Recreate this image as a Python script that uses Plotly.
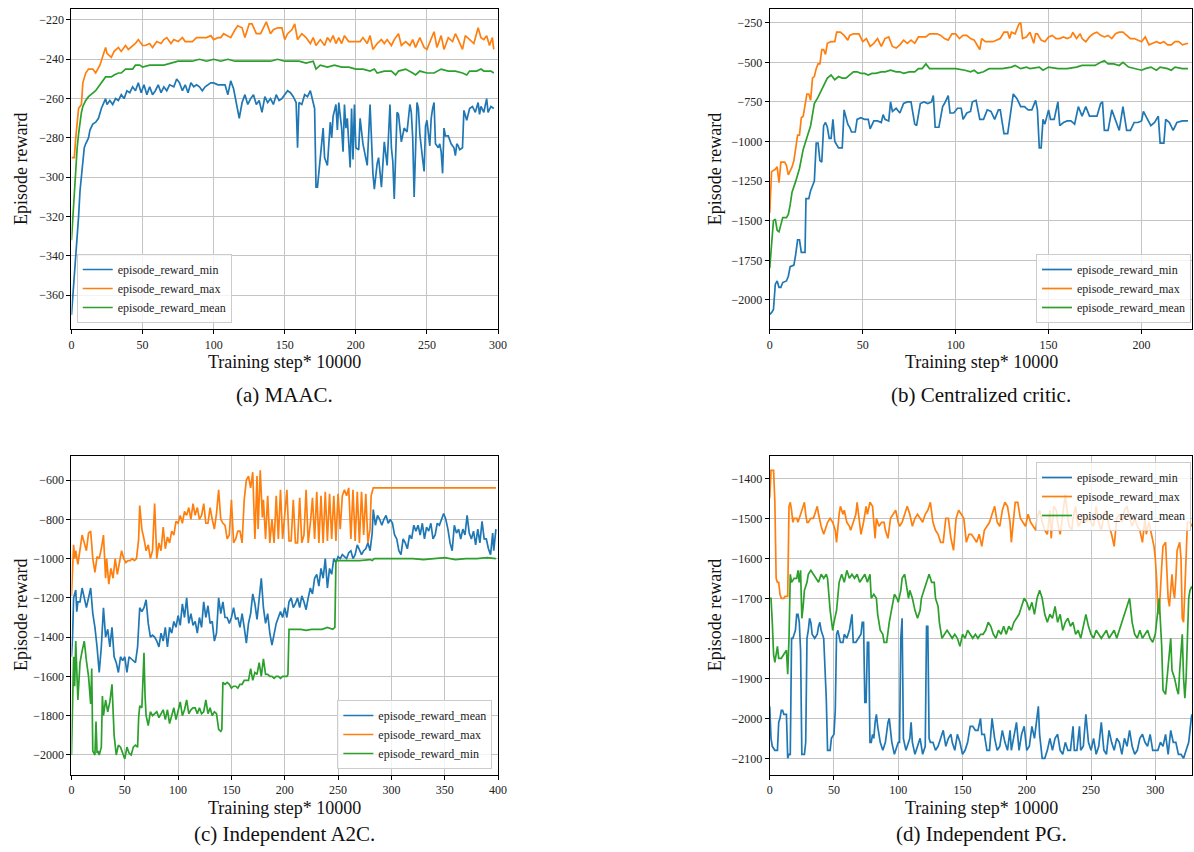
import plotly.graph_objects as go

# ---------------- data ----------------
# (a) MAAC
a_min = [(0,-370),(1,-360),(2,-350),(3,-345),(4,-330),(5,-320),(6,-307),(7,-300),(8,-290),(9,-285),(10,-283),(12,-280),(13,-276),(15,-273),(17,-272),(19,-270),(21,-265),(23,-262),(24,-260),(25,-263),(27,-261),(29,-263),(31,-260),(33,-261),(35,-258),(37,-260),(39,-256),(41,-257),(43,-254),(45,-256),(47,-252),(49,-257),(51,-253),(53,-258),(55,-254),(57,-258),(59,-256),(61,-253),(63,-257),(65,-254),(67,-256),(69,-253),(72,-254),(74,-250),(76,-252),(78,-256),(80,-253),(82,-257),(84,-252),(86,-254),(88,-253),(90,-254),(92,-256),(94,-254),(96,-253),(98,-252),(100,-252),(103,-253),(105,-253),(108,-253),(110,-258),(112,-251),(114,-255),(116,-262),(117,-265),(118,-270),(120,-262),(122,-258),(124,-263),(126,-260),(128,-258),(130,-263),(132,-261),(134,-267),(136,-259),(138,-262),(140,-260),(142,-263),(144,-258),(146,-261),(148,-260),(150,-258),(152,-256),(154,-257),(156,-259),(158,-262),(159,-285),(160,-262),(162,-263),(164,-258),(166,-259),(168,-256),(170,-262),(171,-265),(172,-305),(173,-305),(175,-290),(177,-275),(178,-290),(180,-294),(182,-272),(183,-280),(184,-269),(186,-263),(187,-276),(188,-262),(190,-275),(191,-287),(192,-263),(193,-275),(194,-270),(195,-283),(196,-295),(197,-265),(198,-291),(199,-263),(200,-285),(202,-286),(203,-270),(205,-283),(207,-290),(208,-294),(210,-263),(211,-280),(212,-298),(213,-306),(215,-293),(216,-290),(218,-305),(220,-282),(222,-294),(224,-263),(225,-285),(226,-292),(227,-311),(229,-267),(230,-268),(232,-282),(234,-275),(236,-277),(238,-263),(239,-267),(240,-280),(241,-310),(243,-262),(244,-265),(245,-278),(247,-291),(248,-297),(249,-274),(250,-271),(252,-284),(253,-270),(254,-265),(255,-262),(256,-283),(257,-284),(258,-285),(259,-283),(260,-287),(261,-298),(262,-275),(263,-279),(265,-279),(267,-283),(269,-285),(270,-289),(271,-283),(272,-284),(273,-286),(275,-285),(276,-266),(278,-271),(280,-265),(282,-264),(284,-267),(286,-262),(287,-268),(288,-264),(290,-267),(292,-260),(293,-267),(295,-264),(297,-265)]
a_max = [(0,-290),(2,-290),(3,-280),(5,-265),(7,-263),(8,-252),(10,-247),(12,-245),(15,-245),(17,-247),(20,-243),(22,-238),(24,-234),(25,-237),(28,-239),(30,-236),(33,-234),(35,-236),(38,-233),(40,-235),(43,-233),(45,-232),(47,-230),(50,-233),(52,-233),(55,-232),(57,-234),(60,-231),(63,-232),(65,-230),(67,-229),(70,-232),(72,-230),(75,-231),(78,-229),(80,-231),(83,-231),(85,-231),(88,-229),(90,-229),(93,-229),(95,-229),(98,-228),(100,-230),(103,-229),(105,-229),(107,-227),(110,-228),(112,-229),(115,-225),(117,-223),(120,-224),(122,-229),(125,-222),(127,-222),(130,-227),(133,-227),(135,-224),(137,-221),(140,-227),(142,-225),(145,-224),(148,-224),(150,-230),(152,-227),(155,-225),(157,-222),(159,-230),(162,-227),(165,-229),(168,-232),(170,-229),(172,-233),(175,-230),(178,-233),(180,-229),(182,-231),(184,-228),(186,-232),(188,-229),(190,-232),(192,-228),(195,-231),(198,-231),(200,-231),(203,-231),(205,-229),(208,-232),(210,-228),(212,-235),(215,-232),(218,-230),(220,-232),(222,-230),(225,-233),(227,-230),(230,-227),(232,-233),(235,-231),(238,-233),(240,-230),(242,-234),(245,-229),(248,-234),(250,-235),(252,-231),(255,-226),(257,-234),(260,-228),(262,-235),(265,-229),(268,-231),(270,-227),(272,-230),(275,-235),(277,-228),(280,-230),(283,-232),(286,-224),(288,-229),(290,-230),(292,-228),(294,-233),(296,-229),(297,-235)]
a_mean = [(0,-332),(1,-320),(2,-305),(3,-295),(4,-285),(5,-278),(6,-272),(7,-267),(8,-264),(10,-261),(12,-259),(15,-257),(17,-256),(20,-253),(22,-251),(24,-249),(26,-249),(28,-249),(30,-248),(33,-247),(35,-247),(38,-245),(40,-245),(43,-245),(45,-243),(48,-243),(50,-244),(55,-243),(60,-243),(65,-243),(70,-242),(75,-241),(80,-241),(85,-241),(90,-240),(95,-241),(100,-240),(105,-241),(110,-240),(115,-241),(120,-241),(125,-241),(130,-241),(135,-241),(140,-241),(145,-240),(150,-241),(155,-241),(160,-241),(165,-242),(170,-241),(172,-245),(175,-243),(180,-244),(185,-243),(190,-244),(195,-244),(200,-245),(205,-245),(210,-246),(213,-245),(215,-247),(220,-246),(225,-246),(228,-248),(230,-246),(235,-245),(240,-247),(242,-248),(245,-246),(250,-247),(255,-247),(260,-245),(265,-246),(270,-246),(275,-247),(278,-248),(280,-246),(285,-246),(288,-245),(290,-246),(295,-246),(297,-247)]

# (b) Centralized critic
b_min = [(0,-2090),(1,-2080),(2,-2060),(3,-1900),(4,-1880),(5,-1920),(6,-1920),(7,-1890),(9,-1880),(10,-1850),(11,-1790),(13,-1780),(14,-1710),(15,-1620),(16,-1620),(17,-1700),(19,-1700),(19.5,-1360),(21,-1360),(22,-1310),(24,-1250),(25,-1010),(26,-1010),(27,-1120),(28,-1130),(29,-900),(30,-880),(31,-910),(32,-980),(33,-980),(34,-860),(35,-1000),(37,-1040),(39,-1040),(40,-800),(42,-890),(43,-910),(44,-940),(46,-940),(47,-860),(49,-850),(51,-860),(53,-860),(54,-920),(56,-870),(58,-870),(60,-880),(61,-830),(62,-860),(64,-870),(65,-750),(66,-810),(68,-790),(70,-820),(72,-760),(74,-750),(76,-750),(78,-890),(79,-900),(81,-760),(83,-750),(85,-760),(87,-750),(88,-710),(89,-910),(91,-910),(93,-780),(94,-760),(96,-710),(97,-820),(99,-820),(101,-790),(103,-790),(104,-860),(106,-820),(108,-810),(109,-750),(111,-740),(113,-860),(115,-860),(117,-800),(119,-810),(121,-860),(123,-800),(124,-800),(126,-950),(128,-950),(130,-760),(131,-700),(133,-730),(135,-780),(137,-780),(139,-800),(141,-800),(143,-740),(144,-800),(145,-1040),(146,-1040),(147,-860),(148,-890),(150,-800),(151,-860),(153,-860),(155,-750),(156,-900),(158,-880),(160,-870),(162,-870),(164,-890),(166,-780),(168,-840),(170,-780),(172,-840),(174,-840),(176,-840),(178,-760),(179,-750),(180,-930),(182,-930),(184,-800),(186,-870),(188,-930),(190,-780),(192,-930),(194,-930),(196,-880),(198,-880),(200,-870),(201,-810),(203,-860),(205,-900),(207,-880),(209,-840),(210,-1010),(212,-1010),(213,-860),(215,-880),(217,-930),(219,-880),(222,-870),(225,-870)]
b_max = [(0,-1450),(1,-1190),(3,-1175),(4,-1160),(5,-1260),(6,-1130),(8,-1130),(9,-1150),(10,-1210),(12,-1160),(13,-1120),(15,-960),(16,-960),(17,-850),(18,-840),(19,-760),(20,-700),(21,-700),(22,-740),(23,-600),(24,-590),(25,-540),(26,-510),(27,-510),(28,-420),(29,-420),(30,-450),(31,-380),(33,-370),(35,-370),(36,-310),(38,-310),(40,-330),(42,-360),(43,-330),(45,-320),(48,-320),(50,-370),(52,-350),(54,-400),(56,-380),(58,-350),(60,-400),(62,-350),(64,-340),(66,-400),(68,-410),(70,-390),(72,-360),(74,-380),(76,-360),(78,-380),(80,-340),(82,-340),(84,-340),(86,-320),(90,-320),(92,-330),(94,-350),(96,-360),(98,-320),(100,-320),(102,-350),(104,-330),(106,-330),(108,-350),(110,-360),(112,-400),(113,-420),(114,-350),(116,-370),(120,-370),(124,-350),(126,-310),(128,-310),(129,-350),(130,-310),(132,-320),(134,-260),(135,-250),(136,-350),(138,-340),(140,-310),(142,-380),(143,-320),(144,-320),(146,-360),(148,-370),(150,-340),(152,-330),(154,-350),(156,-350),(158,-340),(160,-350),(162,-340),(163,-310),(165,-350),(167,-320),(168,-350),(170,-370),(172,-340),(174,-320),(176,-310),(178,-330),(180,-340),(182,-330),(184,-350),(186,-320),(188,-310),(190,-310),(192,-330),(194,-350),(196,-350),(198,-360),(200,-370),(202,-340),(204,-390),(206,-380),(208,-370),(210,-380),(212,-370),(214,-390),(216,-390),(218,-370),(220,-370),(222,-390),(224,-380),(225,-380)]
b_mean = [(0,-1800),(1,-1650),(2,-1500),(3,-1490),(4,-1560),(5,-1570),(6,-1530),(7,-1480),(9,-1480),(10,-1460),(11,-1400),(12,-1320),(14,-1250),(16,-1170),(18,-1050),(20,-980),(22,-900),(23,-830),(24,-760),(26,-720),(28,-670),(29,-640),(31,-600),(33,-580),(35,-610),(37,-590),(39,-600),(41,-600),(43,-580),(45,-560),(47,-560),(49,-570),(51,-570),(53,-580),(55,-570),(57,-570),(60,-560),(62,-560),(65,-550),(68,-560),(70,-560),(72,-570),(75,-560),(78,-560),(80,-540),(82,-540),(84,-510),(86,-540),(90,-540),(95,-540),(100,-540),(105,-550),(108,-560),(110,-550),(112,-570),(115,-560),(118,-540),(120,-540),(125,-540),(130,-530),(132,-520),(135,-540),(138,-530),(140,-540),(145,-530),(147,-550),(150,-530),(155,-540),(160,-540),(165,-530),(168,-520),(170,-520),(175,-520),(178,-500),(180,-490),(182,-510),(185,-510),(188,-520),(190,-500),(193,-530),(196,-540),(200,-550),(202,-540),(205,-530),(208,-550),(210,-530),(214,-540),(216,-550),(218,-530),(222,-540),(225,-540)]

# (c) Independent A2C
c_mean = [(0,-1500),(1,-1400),(2,-1200),(3,-1170),(4,-1160),(5,-1270),(6,-1220),(8,-1220),(10,-1150),(12,-1200),(14,-1250),(16,-1200),(18,-1150),(20,-1280),(22,-1350),(24,-1450),(26,-1580),(28,-1450),(30,-1250),(32,-1400),(34,-1360),(36,-1450),(38,-1350),(40,-1500),(42,-1530),(44,-1580),(46,-1500),(48,-1520),(50,-1500),(52,-1580),(54,-1500),(56,-1510),(58,-1520),(60,-1530),(62,-1450),(64,-1250),(66,-1270),(68,-1250),(70,-1210),(72,-1330),(74,-1400),(76,-1390),(78,-1400),(80,-1420),(82,-1450),(84,-1380),(86,-1420),(88,-1350),(90,-1450),(92,-1350),(94,-1380),(96,-1320),(98,-1350),(100,-1290),(102,-1340),(104,-1230),(106,-1300),(108,-1200),(110,-1330),(112,-1280),(114,-1340),(116,-1320),(118,-1380),(120,-1300),(122,-1350),(124,-1220),(126,-1300),(128,-1240),(130,-1330),(132,-1320),(134,-1420),(136,-1380),(138,-1200),(140,-1280),(142,-1220),(144,-1300),(146,-1300),(148,-1330),(150,-1300),(152,-1250),(154,-1310),(156,-1300),(158,-1350),(160,-1280),(162,-1350),(164,-1430),(166,-1330),(168,-1280),(170,-1180),(172,-1230),(174,-1310),(176,-1200),(178,-1100),(180,-1250),(182,-1330),(184,-1280),(186,-1380),(188,-1440),(190,-1380),(192,-1330),(194,-1300),(196,-1270),(198,-1300),(200,-1250),(202,-1300),(204,-1220),(206,-1200),(208,-1250),(210,-1230),(212,-1200),(214,-1250),(216,-1190),(218,-1220),(220,-1260),(222,-1200),(224,-1150),(226,-1180),(228,-1100),(230,-1080),(232,-1140),(234,-1050),(236,-1100),(238,-1000),(240,-1150),(242,-1050),(244,-1080),(246,-1000),(248,-1020),(250,-990),(252,-1000),(254,-980),(256,-990),(258,-1000),(260,-970),(262,-960),(264,-1000),(266,-980),(268,-930),(270,-960),(272,-980),(274,-960),(276,-950),(278,-920),(280,-960),(282,-870),(283,-750),(285,-830),(287,-780),(289,-800),(291,-830),(293,-800),(295,-780),(297,-820),(299,-800),(301,-820),(303,-880),(305,-900),(307,-960),(309,-980),(311,-900),(313,-920),(315,-950),(317,-880),(319,-900),(321,-830),(323,-860),(325,-830),(327,-880),(329,-820),(331,-900),(333,-840),(335,-860),(337,-820),(339,-900),(341,-880),(343,-820),(345,-830),(347,-800),(349,-770),(351,-800),(353,-850),(355,-920),(357,-960),(359,-830),(361,-870),(363,-850),(365,-900),(367,-850),(369,-880),(371,-780),(373,-870),(375,-900),(377,-860),(379,-930),(381,-850),(383,-920),(385,-810),(387,-900),(389,-900),(391,-950),(393,-980),(395,-870),(396,-960),(398,-850)]
c_max = [(0,-1190),(1,-1050),(2,-930),(3,-1000),(4,-960),(6,-1030),(8,-960),(10,-880),(12,-920),(14,-960),(16,-870),(18,-860),(20,-1000),(22,-1070),(24,-990),(26,-1000),(28,-950),(30,-880),(32,-1100),(33,-1000),(35,-1130),(37,-1050),(39,-1100),(41,-1000),(43,-1080),(45,-1010),(47,-960),(49,-1000),(51,-1020),(53,-1010),(55,-1010),(57,-1000),(59,-1010),(61,-1000),(63,-900),(64,-730),(66,-850),(68,-900),(70,-960),(72,-930),(74,-1000),(76,-960),(78,-720),(80,-1000),(82,-920),(84,-960),(86,-840),(88,-950),(90,-890),(92,-920),(94,-860),(96,-880),(98,-810),(100,-820),(102,-780),(104,-820),(106,-760),(108,-780),(110,-740),(112,-800),(114,-720),(116,-780),(118,-740),(120,-800),(122,-780),(124,-720),(126,-820),(128,-820),(130,-740),(132,-800),(134,-850),(136,-770),(138,-650),(140,-800),(142,-820),(144,-830),(146,-900),(148,-880),(150,-700),(152,-920),(154,-900),(156,-860),(158,-860),(160,-920),(162,-700),(164,-600),(166,-580),(168,-640),(170,-560),(172,-900),(174,-580),(175,-850),(177,-550),(179,-790),(180,-700),(182,-900),(184,-680),(186,-920),(188,-800),(190,-920),(192,-680),(194,-900),(196,-650),(198,-900),(200,-750),(202,-650),(204,-910),(206,-910),(208,-700),(210,-920),(212,-920),(214,-690),(216,-920),(218,-880),(220,-650),(222,-920),(224,-820),(226,-690),(228,-900),(230,-660),(232,-920),(234,-680),(236,-920),(238,-660),(240,-910),(242,-670),(244,-900),(246,-680),(248,-910),(250,-670),(252,-850),(254,-680),(256,-650),(258,-680),(260,-640),(262,-900),(264,-650),(266,-910),(268,-660),(270,-920),(272,-660),(274,-880),(276,-670),(278,-920),(280,-850),(281,-680),(283,-640),(285,-640),(290,-640),(300,-640),(310,-640),(320,-640),(330,-640),(340,-640),(350,-638),(360,-640),(370,-640),(380,-640),(390,-640),(398,-640)]
c_min = [(0,-2000),(1,-1700),(2,-1500),(3,-1650),(4,-1420),(6,-1720),(8,-1530),(10,-1470),(12,-1420),(14,-1520),(16,-1600),(18,-1740),(19,-1560),(20,-1980),(22,-2000),(23,-1830),(24,-1990),(25,-1980),(26,-2000),(28,-1960),(29,-1700),(30,-1800),(32,-1720),(34,-1780),(36,-1730),(38,-1640),(40,-1900),(42,-2000),(44,-1950),(46,-1960),(48,-1990),(50,-2020),(52,-1960),(54,-1990),(56,-2000),(58,-1960),(60,-1950),(62,-1960),(63,-1810),(64,-1750),(66,-1760),(68,-1480),(69,-1700),(70,-1800),(72,-1850),(74,-1780),(76,-1800),(78,-1790),(80,-1780),(82,-1810),(84,-1790),(86,-1770),(88,-1820),(90,-1770),(92,-1840),(94,-1800),(96,-1760),(98,-1820),(100,-1780),(102,-1730),(104,-1800),(106,-1770),(108,-1720),(110,-1790),(112,-1770),(114,-1760),(116,-1760),(118,-1790),(120,-1760),(122,-1790),(124,-1780),(126,-1720),(128,-1790),(130,-1760),(132,-1800),(134,-1780),(136,-1790),(138,-1870),(140,-1880),(141,-1870),(142,-1630),(144,-1640),(146,-1630),(148,-1640),(150,-1660),(152,-1650),(154,-1650),(156,-1660),(158,-1640),(160,-1640),(162,-1620),(164,-1620),(166,-1620),(168,-1560),(170,-1620),(172,-1580),(174,-1590),(176,-1530),(178,-1600),(180,-1510),(182,-1590),(184,-1590),(186,-1600),(188,-1600),(190,-1610),(192,-1600),(194,-1600),(196,-1610),(198,-1600),(200,-1600),(202,-1600),(203,-1590),(204,-1360),(206,-1360),(210,-1360),(215,-1360),(220,-1365),(225,-1360),(230,-1360),(235,-1360),(240,-1350),(245,-1360),(247,-1350),(248,-1010),(250,-1010),(260,-1010),(270,-1010),(280,-1005),(282,-1010),(284,-1000),(290,-1000),(300,-1000),(310,-1000),(320,-1000),(330,-1005),(340,-1000),(350,-995),(360,-1005),(370,-1000),(380,-1000),(390,-995),(398,-1000)]

# (d) Independent PG
d_min = [(0,-1970),(1,-2050),(2,-2070),(4,-2080),(6,-2080),(7,-2010),(8,-2000),(9,-1980),(10,-1980),(11,-1990),(13,-1990),(14,-2100),(15,-2090),(16,-2090),(17,-1800),(18,-1800),(19,-1790),(20,-1780),(21,-1740),(22,-1740),(23,-1760),(24,-1830),(25,-2090),(26,-2090),(27,-2090),(28,-2060),(29,-1800),(30,-1780),(31,-1750),(32,-1760),(33,-1790),(35,-1800),(37,-1790),(38,-1770),(39,-1760),(40,-1780),(42,-1800),(44,-1950),(45,-2080),(47,-2080),(48,-2050),(50,-2040),(51,-1980),(52,-1790),(53,-1780),(55,-1810),(57,-1810),(58,-1790),(60,-1800),(62,-1780),(63,-1760),(64,-1740),(65,-1810),(67,-1810),(69,-1800),(71,-1790),(72,-1760),(73,-1760),(74,-1960),(75,-1960),(76,-1810),(77,-1810),(78,-2060),(79,-2060),(80,-2040),(81,-2050),(82,-2010),(83,-1990),(84,-2020),(86,-2060),(88,-2080),(90,-2060),(92,-2010),(93,-2000),(95,-2060),(97,-2090),(99,-2070),(100,-2060),(101,-2060),(102,-1800),(103,-1750),(104,-2050),(106,-2080),(108,-2060),(109,-2050),(110,-2010),(111,-2060),(113,-2090),(115,-2070),(117,-2050),(119,-2090),(121,-2070),(122,-1770),(123,-1770),(124,-2050),(125,-2060),(127,-2060),(129,-2080),(131,-2070),(133,-2050),(135,-2030),(136,-2050),(137,-2070),(139,-2050),(141,-2040),(142,-2060),(144,-2080),(146,-2040),(148,-2060),(150,-2090),(152,-2080),(154,-2060),(156,-2020),(158,-2020),(160,-2030),(162,-2030),(164,-2000),(165,-2040),(167,-2040),(169,-2080),(171,-2080),(173,-2000),(175,-2050),(177,-2080),(179,-2070),(181,-2030),(183,-2060),(185,-2080),(187,-2030),(188,-2080),(190,-2040),(192,-2010),(194,-2080),(196,-2040),(198,-2020),(200,-2080),(202,-2070),(204,-2020),(206,-2050),(208,-2000),(209,-1970),(210,-2040),(212,-2100),(214,-2100),(216,-2080),(218,-2050),(220,-2080),(222,-2050),(224,-2040),(226,-2080),(228,-2090),(230,-2060),(232,-2080),(234,-2080),(236,-2020),(237,-2080),(239,-2080),(241,-2020),(242,-2080),(244,-2070),(246,-1990),(248,-2060),(250,-2080),(252,-2050),(254,-2090),(256,-2070),(258,-2010),(260,-2080),(262,-2090),(264,-2030),(266,-2060),(268,-2080),(270,-2050),(272,-2060),(274,-2090),(276,-2050),(278,-2070),(280,-2030),(282,-2070),(284,-2090),(286,-2080),(288,-2050),(290,-2040),(292,-2060),(294,-2070),(296,-2040),(298,-2080),(300,-2080),(302,-2080),(304,-2060),(306,-2070),(308,-2040),(310,-2090),(312,-2030),(314,-2060),(316,-2060),(318,-2090),(320,-2090),(322,-2100),(324,-2080),(326,-2060),(328,-2000),(328.5,-1990)]
d_max = [(0,-1450),(1,-1380),(3,-1380),(4,-1460),(5,-1650),(6,-1660),(7,-1660),(8,-1690),(9,-1700),(11,-1700),(12,-1695),(14,-1695),(15,-1470),(16,-1460),(17,-1480),(18,-1510),(19,-1500),(21,-1500),(22,-1510),(24,-1490),(26,-1470),(27,-1460),(28,-1490),(29,-1510),(30,-1510),(32,-1500),(34,-1500),(36,-1480),(37,-1470),(38,-1490),(40,-1520),(42,-1540),(43,-1530),(45,-1510),(47,-1500),(49,-1510),(51,-1530),(52,-1560),(54,-1490),(55,-1470),(57,-1490),(58,-1480),(60,-1510),(62,-1520),(63,-1530),(65,-1510),(67,-1490),(68,-1460),(70,-1510),(71,-1540),(73,-1510),(75,-1470),(76,-1490),(78,-1460),(80,-1470),(81,-1520),(82,-1550),(83,-1500),(85,-1520),(87,-1510),(89,-1510),(90,-1530),(92,-1550),(94,-1500),(96,-1490),(98,-1480),(100,-1510),(101,-1520),(103,-1510),(105,-1490),(107,-1470),(109,-1490),(111,-1520),(113,-1500),(115,-1490),(117,-1500),(119,-1510),(121,-1490),(123,-1480),(125,-1460),(127,-1510),(129,-1530),(131,-1540),(133,-1560),(135,-1560),(137,-1500),(139,-1500),(141,-1550),(143,-1580),(145,-1500),(147,-1480),(149,-1490),(151,-1500),(153,-1560),(155,-1540),(157,-1540),(159,-1550),(161,-1560),(163,-1540),(165,-1570),(167,-1530),(169,-1520),(171,-1510),(173,-1490),(175,-1470),(177,-1510),(179,-1520),(181,-1480),(183,-1460),(185,-1470),(187,-1510),(188,-1560),(190,-1500),(191,-1460),(193,-1460),(195,-1500),(197,-1510),(199,-1520),(201,-1490),(203,-1510),(205,-1520),(207,-1530),(208,-1500),(210,-1480),(212,-1510),(214,-1530),(216,-1540),(218,-1480),(219,-1550),(221,-1470),(223,-1480),(224,-1510),(226,-1540),(228,-1490),(230,-1440),(232,-1500),(233,-1520),(235,-1530),(236,-1500),(238,-1470),(240,-1520),(242,-1510),(244,-1490),(246,-1510),(248,-1500),(250,-1510),(252,-1520),(254,-1470),(256,-1510),(258,-1530),(260,-1490),(262,-1480),(264,-1520),(266,-1540),(268,-1570),(270,-1500),(272,-1490),(274,-1510),(276,-1480),(278,-1470),(280,-1500),(282,-1520),(284,-1500),(286,-1520),(288,-1530),(290,-1560),(292,-1500),(293,-1540),(295,-1510),(297,-1540),(299,-1570),(300,-1600),(301,-1650),(302,-1730),(303,-1740),(305,-1620),(306,-1570),(308,-1560),(309,-1620),(310,-1700),(311,-1720),(313,-1640),(314,-1680),(315,-1700),(316,-1650),(317,-1580),(319,-1560),(320,-1600),(321,-1750),(322,-1760),(323,-1680),(324,-1600),(325,-1510),(327,-1510),(328.5,-1520)]
d_mean = [(0,-1700),(1,-1700),(2,-1760),(3,-1840),(4,-1860),(5,-1840),(6,-1820),(7,-1850),(9,-1850),(11,-1840),(13,-1830),(14,-1890),(15,-1800),(16,-1640),(17,-1660),(19,-1650),(21,-1650),(22,-1630),(23,-1660),(24,-1630),(25,-1750),(26,-1720),(27,-1680),(29,-1660),(30,-1640),(32,-1630),(34,-1640),(36,-1650),(38,-1660),(40,-1640),(42,-1650),(44,-1640),(45,-1650),(47,-1730),(49,-1780),(50,-1760),(52,-1730),(54,-1660),(56,-1640),(58,-1660),(60,-1630),(62,-1650),(64,-1640),(66,-1650),(68,-1640),(70,-1660),(72,-1650),(74,-1640),(76,-1660),(78,-1640),(79,-1700),(81,-1690),(83,-1700),(84,-1740),(86,-1780),(88,-1790),(89,-1810),(91,-1810),(93,-1760),(95,-1720),(97,-1690),(99,-1700),(100,-1710),(102,-1680),(103,-1650),(105,-1640),(106,-1660),(108,-1700),(109,-1680),(111,-1700),(113,-1730),(115,-1750),(117,-1730),(118,-1700),(120,-1680),(122,-1660),(124,-1640),(126,-1660),(128,-1660),(129,-1700),(131,-1720),(132,-1760),(134,-1800),(136,-1790),(138,-1780),(140,-1790),(142,-1800),(144,-1790),(146,-1800),(148,-1820),(150,-1790),(152,-1800),(154,-1780),(156,-1790),(158,-1800),(160,-1790),(162,-1800),(164,-1790),(166,-1790),(168,-1780),(170,-1760),(172,-1770),(174,-1790),(176,-1800),(178,-1780),(180,-1790),(182,-1770),(184,-1790),(186,-1770),(188,-1780),(190,-1760),(192,-1750),(194,-1740),(196,-1720),(198,-1700),(200,-1710),(202,-1730),(204,-1710),(206,-1740),(208,-1700),(210,-1680),(212,-1700),(214,-1740),(216,-1760),(218,-1740),(220,-1750),(222,-1720),(224,-1760),(226,-1740),(228,-1780),(230,-1760),(232,-1750),(234,-1770),(236,-1760),(238,-1790),(240,-1780),(242,-1800),(244,-1770),(246,-1740),(248,-1770),(250,-1790),(252,-1800),(254,-1780),(256,-1790),(258,-1800),(260,-1790),(262,-1780),(264,-1800),(266,-1790),(268,-1780),(270,-1800),(272,-1780),(274,-1760),(276,-1740),(278,-1720),(280,-1700),(282,-1760),(284,-1790),(286,-1800),(288,-1780),(290,-1800),(292,-1790),(294,-1780),(296,-1800),(298,-1810),(300,-1790),(302,-1720),(303,-1700),(305,-1820),(306,-1930),(308,-1940),(309,-1900),(311,-1840),(312,-1800),(313,-1880),(315,-1900),(317,-1930),(318,-1940),(319,-1880),(320,-1830),(321,-1790),(322,-1900),(323,-1950),(324,-1900),(325,-1800),(326,-1700),(327,-1680),(328.5,-1670)]

# tick values
a_xticks = [0, 50, 100, 150, 200, 250, 300]
a_yticks = [-360, -340, -320, -300, -280, -260, -240, -220]
b_xticks = [0, 50, 100, 150, 200]
b_yticks = [-2000, -1750, -1500, -1250, -1000, -750, -500, -250]
c_xticks = [0, 50, 100, 150, 200, 250, 300, 350, 400]
c_yticks = [-2000, -1800, -1600, -1400, -1200, -1000, -800, -600]
d_xticks = [0, 50, 100, 150, 200, 250, 300]
d_yticks = [-2100, -2000, -1900, -1800, -1700, -1600, -1500, -1400]

captions = ["(a) MAAC.", "(b) Centralized critic.", "(c) Independent A2C.", "(d) Independent PG."]

# ---------------- styling ----------------
# Positions below are given in the reference picture's pixels (1194 x 852);
# the figure itself is laid out slightly wider so it fills the photographed page.
REF_W, REF_H = 1194, 852
FIG_W, FIG_H = 1202, 852
FONT = "Liberation Serif, Times New Roman, serif"
BLUE, ORANGE, GREEN = "#1f77b4", "#ff7f0e", "#2ca02c"
GRID = "#c4c4c4"

def fx(px):
    return px / REF_W

def fy(py):
    return 1 - py / REF_H

def lab(v):
    return ("\u2212" + str(abs(v))) if v < 0 else str(v)

# boxes of the 4 plot areas: (left, right, top, bottom)
boxes = [
    (68.7, 496.7, 9.3, 329.3),
    (769.3, 1193.3, 9.3, 329.3),
    (68.7, 496.7, 455.7, 775.0),
    (769.3, 1193.3, 455.7, 775.0),
]
xranges = [[0, 300], [0, 227.3], [0, 400], [0, 328.8]]
yranges = [[-377.3, -214.6], [-2185, -165.5], [-2102, -476], [-2141.7, -1343.5]]
xticks = [a_xticks, b_xticks, c_xticks, d_xticks]
yticks = [a_yticks, b_yticks, c_yticks, d_yticks]

panels = [
    [("episode_reward_min", a_min, BLUE), ("episode_reward_max", a_max, ORANGE), ("episode_reward_mean", a_mean, GREEN)],
    [("episode_reward_min", b_min, BLUE), ("episode_reward_max", b_max, ORANGE), ("episode_reward_mean", b_mean, GREEN)],
    [("episode_reward_mean", c_mean, BLUE), ("episode_reward_max", c_max, ORANGE), ("episode_reward_min", c_min, GREEN)],
    [("episode_reward_min", d_min, BLUE), ("episode_reward_max", d_max, ORANGE), ("episode_reward_mean", d_mean, GREEN)],
]

fig = go.Figure()
layout = dict(
    width=FIG_W, height=FIG_H, autosize=False,
    margin=dict(l=0, r=0, t=0, b=0, pad=0),
    paper_bgcolor="white", plot_bgcolor="white",
    font=dict(family=FONT, size=12, color="#222"),
    showlegend=True,
    annotations=[],
)

legend_pos = [
    dict(x=fx(74), y=fy(323), xanchor="left", yanchor="bottom"),
    dict(x=fx(1192), y=fy(323), xanchor="right", yanchor="bottom"),
    dict(x=fx(491), y=fy(769), xanchor="right", yanchor="bottom"),
    dict(x=fx(1192), y=fy(462), xanchor="right", yanchor="top"),
]

for i in range(4):
    n = "" if i == 0 else str(i + 1)
    l, r, t, b = boxes[i]
    for name, pts, col in panels[i]:
        xs = [p[0] for p in pts]
        ys = [p[1] for p in pts]
        fig.add_trace(go.Scatter(
            x=xs, y=ys, mode="lines", name=name,
            line=dict(color=col, width=1.7),
            xaxis="x" + n, yaxis="y" + n,
            legend="legend" + n,
        ))
    axcommon = dict(
        showline=True, linecolor="black", linewidth=1, mirror=True,
        ticks="outside", ticklen=4, tickwidth=1, tickcolor="black",
        showgrid=True, gridcolor=GRID, gridwidth=1, zeroline=False,
        tickfont=dict(family=FONT, size=12, color="#222"),
    )
    layout["xaxis" + n] = dict(
        axcommon, domain=[fx(l), min(1.0, fx(r))], range=xranges[i],
        anchor="y" + n, tickmode="array", tickvals=xticks[i],
        ticktext=[lab(v) for v in xticks[i]],
    )
    layout["yaxis" + n] = dict(
        axcommon, domain=[fy(b), min(1.0, fy(t))], range=yranges[i],
        anchor="x" + n, tickmode="array", tickvals=yticks[i],
        ticktext=[lab(v) for v in yticks[i]],
    )
    layout["legend" + n] = dict(
        legend_pos[i],
        bgcolor="rgba(255,255,255,0.8)", bordercolor="#cccccc", borderwidth=1,
        font=dict(family=FONT, size=12, color="#222"),
        itemwidth=30, tracegroupgap=0,
    )
    cx = (l + r) / 2
    cy = (t + b) / 2
    # x-axis title
    layout["annotations"].append(dict(
        text="Training step* 10000", x=fx(cx), y=fy(b + 33), xref="paper", yref="paper",
        showarrow=False, xanchor="center", yanchor="middle",
        font=dict(family=FONT, size=18, color="#111"),
    ))
    # y-axis title
    layout["annotations"].append(dict(
        text="Episode reward", x=fx(l - 50 if i % 2 == 0 else l - 55), y=fy(cy), xref="paper", yref="paper",
        showarrow=False, xanchor="center", yanchor="middle", textangle=-90,
        font=dict(family=FONT, size=18, color="#111"),
    ))
    # caption
    layout["annotations"].append(dict(
        text=captions[i], x=fx(cx), y=fy(b + 66 if i < 2 else b + 59), xref="paper", yref="paper",
        showarrow=False, xanchor="center", yanchor="middle",
        font=dict(family=FONT, size=21, color="#111"),
    ))

fig.update_layout(**layout)
fig.write_html(
    "out.html",
    config={"responsive": False, "displayModeBar": False},
    post_script="document.body.style.margin='0px';document.body.style.overflow='hidden';",
)
